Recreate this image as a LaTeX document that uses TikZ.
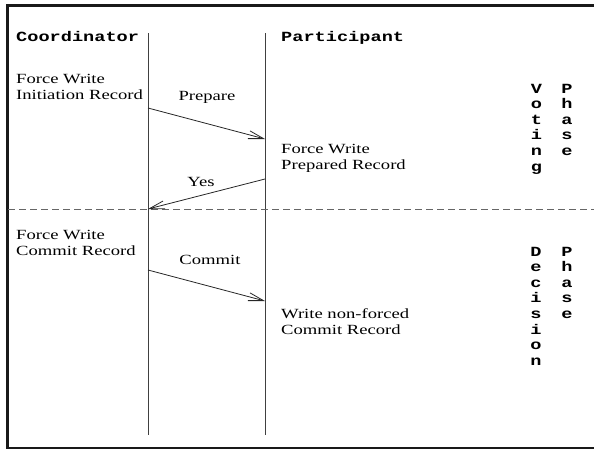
\documentclass[tikz,border=0pt]{standalone}
\usepackage{fontspec}
\usetikzlibrary{arrows.meta}
\newfontfamily\tmsfont[FakeStretch=1.33]{Liberation Serif}
\newfontfamily\crbfont[FakeStretch=1.33]{Liberation Mono}
\newcommand{\twolines}[2]{\begin{tabular}[t]{@{}l@{}}#1\\#2\end{tabular}}
\newcommand{\vword}[1]{\begin{tabular}[t]{@{}c@{}}#1\end{tabular}}
\tikzset{
  serif/.style={font=\tmsfont\fontsize{14}{16.5}\selectfont, inner sep=0pt, anchor=base west},
  mono/.style={font=\crbfont\bfseries\fontsize{14}{16.5}\selectfont, inner sep=0pt, anchor=base west},
  vmono/.style={font=\crbfont\bfseries\fontsize{14}{15.6}\selectfont, inner sep=0pt, anchor=base},
  msgtext/.style={font=\tmsfont\fontsize{14}{16.5}\selectfont, inner sep=0pt, anchor=base},
  lifeline/.style={draw=black!75, line width=0.9pt},
  msg/.style={draw=black!85, line width=0.8pt, -{Straight Barb[length=15pt,width=8pt]}},
  phaseline/.style={draw=black!60, line width=0.9pt, dash pattern=on 7pt off 4pt},
  frame/.style={draw=black!90}
}
\begin{document}
\begin{tikzpicture}[x=1pt,y=-1pt]
\useasboundingbox (0,0) rectangle (594,450);
% frame
\draw[frame, line width=3pt] (7.5,4) -- (7.5,449);
\draw[frame, line width=3pt] (6,5.5) -- (594,5.5);
\draw[frame, line width=1.8pt] (7,448) -- (594,448);
% lifelines
\coordinate (ctop) at (148,33);
\coordinate (cbot) at (148,435);
\coordinate (ptop) at (265,33);
\coordinate (pbot) at (265,435);
\draw[lifeline] (ctop) -- (cbot);
\draw[lifeline] (ptop) -- (pbot);
% phase separator
\coordinate (dl) at (8,209);
\coordinate (dr) at (594,209);
\draw[phaseline] (dl) -- (dr);
% headers
\node[mono] (coord) at (16,41) {Coordinator};
\node[mono] (part) at (281,41) {Participant};
% texts
\node[serif] (fwinit) at (16,83) {\twolines{Force Write}{Initiation Record}};
\node[serif] (fwprep) at (281,153) {\twolines{Force Write}{Prepared Record}};
\node[serif] (fwcomm) at (16,239) {\twolines{Force Write}{Commit Record}};
\node[serif] (wnfc) at (281,318) {\twolines{Write non-forced}{Commit Record}};
% messages
\coordinate (prepS) at (148,108);
\coordinate (prepE) at (265,139);
\coordinate (yesS) at (265,179);
\coordinate (yesE) at (148,209);
\coordinate (comS) at (148,270);
\coordinate (comE) at (265,301);
\draw[msg] (prepS) -- (prepE);
\draw[msg] (yesS) -- (yesE);
\draw[msg] (comS) -- (comE);
\node[msgtext] (prep) at (207,100) {Prepare};
\node[msgtext] (yes) at (201,186) {Yes};
\node[msgtext] (comm) at (210,264) {Commit};
% phase labels
\node[vmono] (vot) at (536.5,93) {\vword{V\\o\\t\\i\\n\\g}};
\node[vmono] (ph1) at (567,93) {\vword{P\\h\\a\\s\\e}};
\node[vmono] (dec) at (536,256) {\vword{D\\e\\c\\i\\s\\i\\o\\n}};
\node[vmono] (ph2) at (567,256) {\vword{P\\h\\a\\s\\e}};
\end{tikzpicture}
\end{document}
